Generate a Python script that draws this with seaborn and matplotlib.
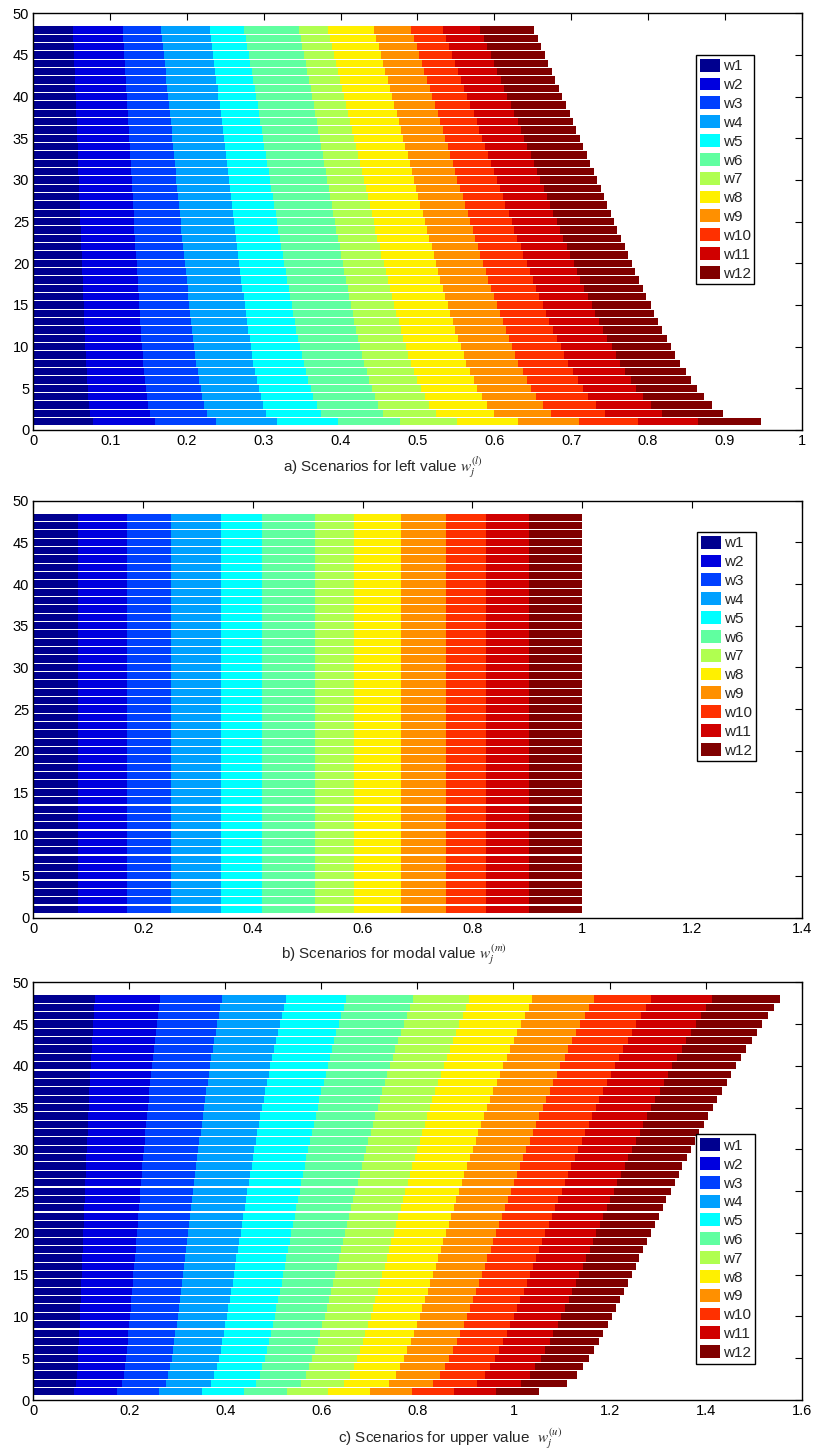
import numpy as np
import pandas as pd
import matplotlib
matplotlib.use("Agg")
import matplotlib.pyplot as plt
import seaborn as sns
from matplotlib.patches import Patch
from matplotlib.ticker import FormatStrFormatter

# ---------------- data ----------------
scenarios = list(range(1, 49))
weight_names = ["w1", "w2", "w3", "w4", "w5", "w6", "w7", "w8", "w9", "w10", "w11", "w12"]

# a) left values (width of each weight segment, scenario 1..48)
left_w1 = [0.0783, .0739, .0726, .0716, .0708, .0701, .0695, .0688, .0683, .0678, .0672, .0667, .0663, .0658, .0654, .0649, .0644, .0640, .0636, .0632, .0627, .0623, .0619, .0615, .0611, .0607, .0603, .0599, .0595, .0591, .0587, .0583, .0579, .0575, .0571, .0567, .0563, .0559, .0555, .0550, .0547, .0542, .0538, .0534, .0530, .0526, .0521, .0517]
left_w2 = [0.0804, .0774, .0766, .0760, .0756, .0752, .0748, .0744, .0741, .0738, .0735, .0732, .0729, .0726, .0724, .0721, .0719, .0716, .0714, .0711, .0709, .0706, .0704, .0701, .0699, .0697, .0694, .0692, .0690, .0687, .0685, .0683, .0680, .0678, .0676, .0673, .0671, .0669, .0666, .0663, .0661, .0659, .0656, .0654, .0652, .0649, .0647, .0644]
left_w3 = [0.0791, .0748, .0733, .0723, .0714, .0707, .0699, .0691, .0686, .0681, .0675, .0669, .0664, .0659, .0654, .0649, .0644, .0639, .0635, .0630, .0625, .0621, .0616, .0611, .0607, .0603, .0598, .0594, .0590, .0585, .0581, .0577, .0572, .0568, .0563, .0559, .0555, .0550, .0545, .0540, .0537, .0532, .0527, .0522, .0518, .0513, .0509, .0504]
left_w4 = [0.0796, .0774, .0766, .0760, .0754, .0750, .0746, .0742, .0739, .0736, .0732, .0729, .0726, .0723, .0721, .0717, .0715, .0712, .0709, .0707, .0704, .0702, .0699, .0696, .0694, .0691, .0689, .0686, .0684, .0681, .0679, .0676, .0674, .0671, .0669, .0666, .0664, .0661, .0659, .0656, .0654, .0651, .0648, .0645, .0643, .0640, .0638, .0635]
left_w5 = [0.0791, .0713, .0697, .0685, .0676, .0668, .0660, .0652, .0646, .0640, .0634, .0627, .0622, .0616, .0611, .0605, .0600, .0595, .0590, .0585, .0579, .0575, .0570, .0565, .0560, .0555, .0550, .0546, .0541, .0536, .0532, .0527, .0522, .0517, .0512, .0508, .0503, .0498, .0493, .0488, .0483, .0478, .0473, .0468, .0463, .0458, .0453, .0448]
left_w6 = [0.0804, .0809, .0803, .0799, .0796, .0793, .0790, .0787, .0785, .0783, .0780, .0778, .0776, .0774, .0772, .0770, .0768, .0766, .0764, .0763, .0761, .0759, .0757, .0755, .0754, .0752, .0750, .0749, .0747, .0745, .0743, .0742, .0740, .0738, .0736, .0735, .0733, .0731, .0729, .0727, .0726, .0724, .0722, .0720, .0719, .0717, .0715, .0713]
left_w7 = [0.0741, .0681, .0663, .0649, .0638, .0629, .0620, .0610, .0603, .0596, .0589, .0582, .0575, .0568, .0563, .0556, .0550, .0544, .0538, .0532, .0526, .0521, .0515, .0509, .0504, .0498, .0493, .0488, .0482, .0476, .0471, .0465, .0460, .0454, .0448, .0443, .0438, .0432, .0426, .0420, .0415, .0409, .0403, .0397, .0392, .0386, .0380, .0374]
left_w8 = [0.0801, .0758, .0749, .0742, .0736, .0731, .0726, .0721, .0718, .0714, .0711, .0707, .0704, .0700, .0697, .0694, .0691, .0687, .0685, .0682, .0678, .0676, .0673, .0670, .0667, .0664, .0661, .0658, .0655, .0652, .0650, .0647, .0644, .0641, .0638, .0635, .0633, .0630, .0627, .0624, .0621, .0618, .0615, .0612, .0609, .0606, .0603, .0600]
left_w9 = [0.0788, .0740, .0725, .0713, .0704, .0696, .0689, .0680, .0675, .0669, .0663, .0657, .0652, .0646, .0641, .0635, .0631, .0625, .0621, .0616, .0611, .0606, .0601, .0596, .0592, .0587, .0582, .0578, .0573, .0568, .0564, .0559, .0555, .0550, .0545, .0541, .0536, .0532, .0526, .0521, .0517, .0512, .0507, .0502, .0498, .0493, .0488, .0483]
left_w10 = [0.0770, .0710, .0692, .0679, .0668, .0659, .0650, .0641, .0634, .0628, .0620, .0613, .0607, .0600, .0595, .0588, .0583, .0576, .0571, .0565, .0559, .0554, .0548, .0543, .0537, .0532, .0526, .0522, .0516, .0510, .0506, .0500, .0494, .0489, .0483, .0478, .0473, .0468, .0462, .0455, .0451, .0445, .0439, .0433, .0428, .0423, .0417, .0411]
left_w11 = [0.0780, .0732, .0717, .0706, .0697, .0690, .0683, .0675, .0670, .0664, .0658, .0652, .0647, .0641, .0637, .0632, .0627, .0622, .0617, .0613, .0608, .0603, .0599, .0594, .0589, .0585, .0580, .0576, .0572, .0567, .0563, .0558, .0554, .0550, .0545, .0541, .0536, .0532, .0527, .0522, .0518, .0513, .0508, .0504, .0499, .0495, .0490, .0485]
left_w12 = [0.0822, .0805, .0799, .0794, .0790, .0787, .0784, .0781, .0779, .0776, .0774, .0771, .0769, .0767, .0765, .0763, .0761, .0759, .0757, .0755, .0753, .0751, .0749, .0747, .0745, .0743, .0741, .0740, .0738, .0735, .0734, .0732, .0730, .0728, .0726, .0724, .0723, .0721, .0719, .0717, .0715, .0713, .0711, .0709, .0707, .0705, .0703, .0701]

# b) modal values: the same weights in every scenario
modal_widths = [0.0811, 0.0892, 0.0814, 0.0898, 0.0759, 0.0954, 0.0708, 0.0872, 0.0813, 0.0723, 0.0788, 0.0968]

# c) upper values
upper_w1 = [0.0849, .0891, .0908, .0920, .0930, .0940, .0949, .0956, .0964, .0972, .0979, .0987, .0994, .1001, .1008, .1015, .1021, .1029, .1035, .1042, .1050, .1056, .1064, .1070, .1077, .1085, .1092, .1099, .1106, .1114, .1122, .1129, .1137, .1145, .1153, .1161, .1169, .1178, .1187, .1195, .1205, .1214, .1223, .1233, .1243, .1254, .1263, .1274]
upper_w2 = [0.0891, .0954, .0972, .0984, .0995, .1005, .1015, .1022, .1031, .1039, .1047, .1055, .1062, .1070, .1077, .1084, .1091, .1099, .1106, .1113, .1121, .1127, .1136, .1142, .1150, .1158, .1165, .1173, .1180, .1188, .1197, .1205, .1213, .1221, .1230, .1238, .1247, .1256, .1265, .1274, .1284, .1294, .1304, .1314, .1324, .1336, .1346, .1357]
upper_w3 = [0.0884, .0918, .0934, .0946, .0956, .0965, .0974, .0981, .0989, .0996, .1003, .1010, .1017, .1024, .1031, .1038, .1044, .1051, .1057, .1064, .1071, .1077, .1085, .1091, .1098, .1105, .1112, .1119, .1126, .1133, .1141, .1148, .1156, .1163, .1171, .1179, .1187, .1196, .1204, .1212, .1221, .1230, .1239, .1248, .1258, .1268, .1278, .1288]
upper_w4 = [0.0884, .0940, .0957, .0970, .0980, .0990, .1000, .1007, .1016, .1024, .1031, .1039, .1046, .1054, .1061, .1068, .1074, .1082, .1089, .1096, .1104, .1110, .1118, .1125, .1133, .1140, .1148, .1155, .1163, .1170, .1179, .1186, .1194, .1202, .1211, .1219, .1228, .1237, .1246, .1255, .1265, .1274, .1284, .1294, .1304, .1315, .1325, .1336]
upper_w5 = [0.0877, .0926, .0941, .0951, .0960, .0969, .0976, .0983, .0990, .0997, .1003, .1009, .1016, .1022, .1028, .1034, .1039, .1046, .1052, .1058, .1064, .1070, .1077, .1082, .1089, .1095, .1101, .1107, .1114, .1120, .1127, .1134, .1140, .1147, .1155, .1161, .1169, .1177, .1184, .1191, .1200, .1208, .1216, .1224, .1233, .1242, .1251, .1260]
upper_w6 = [0.0891, .0946, .0966, .0979, .0991, .1002, .1013, .1021, .1031, .1040, .1048, .1056, .1065, .1073, .1081, .1089, .1096, .1105, .1113, .1120, .1129, .1136, .1145, .1152, .1161, .1169, .1178, .1186, .1194, .1203, .1212, .1221, .1230, .1239, .1249, .1258, .1267, .1278, .1287, .1297, .1308, .1319, .1330, .1341, .1352, .1364, .1376, .1388]
upper_w7 = [0.0863, .0898, .0910, .0919, .0927, .0934, .0941, .0946, .0952, .0958, .0963, .0968, .0974, .0979, .0984, .0989, .0994, .0999, .1004, .1009, .1015, .1019, .1025, .1030, .1035, .1041, .1046, .1051, .1057, .1062, .1068, .1073, .1079, .1085, .1091, .1097, .1103, .1110, .1116, .1122, .1129, .1136, .1143, .1150, .1157, .1165, .1172, .1180]
upper_w8 = [0.0877, .0940, .0956, .0968, .0978, .0987, .0996, .1003, .1011, .1019, .1026, .1033, .1040, .1047, .1054, .1061, .1066, .1074, .1081, .1087, .1095, .1100, .1108, .1114, .1122, .1129, .1136, .1143, .1150, .1157, .1165, .1172, .1180, .1187, .1195, .1203, .1211, .1220, .1228, .1236, .1246, .1254, .1264, .1273, .1283, .1293, .1302, .1313]
upper_w9 = [0.0873, .0907, .0923, .0934, .0944, .0953, .0962, .0969, .0977, .0984, .0991, .0998, .1005, .1012, .1018, .1025, .1030, .1038, .1044, .1050, .1058, .1064, .1071, .1077, .1084, .1091, .1098, .1105, .1112, .1118, .1126, .1133, .1141, .1148, .1156, .1164, .1172, .1180, .1188, .1196, .1205, .1214, .1223, .1232, .1241, .1252, .1261, .1271]
upper_w10 = [0.0868, .0923, .0935, .0943, .0950, .0957, .0963, .0968, .0974, .0979, .0984, .0989, .0994, .0999, .1003, .1008, .1013, .1018, .1023, .1027, .1032, .1037, .1042, .1046, .1052, .1056, .1061, .1066, .1071, .1076, .1082, .1087, .1093, .1098, .1104, .1109, .1115, .1121, .1127, .1133, .1139, .1146, .1152, .1159, .1166, .1173, .1180, .1187]
upper_w11 = [0.0889, .0917, .0933, .0944, .0953, .0962, .0970, .0977, .0985, .0992, .0999, .1005, .1012, .1019, .1025, .1032, .1037, .1044, .1050, .1057, .1064, .1069, .1077, .1082, .1089, .1096, .1103, .1109, .1116, .1123, .1130, .1137, .1144, .1152, .1159, .1167, .1174, .1183, .1190, .1198, .1207, .1215, .1224, .1233, .1242, .1252, .1261, .1271]
upper_w12 = [0.0889, .0958, .0978, .0993, .1005, .1016, .1027, .1036, .1046, .1055, .1064, .1073, .1081, .1090, .1098, .1107, .1114, .1123, .1131, .1139, .1148, .1156, .1165, .1172, .1181, .1190, .1199, .1207, .1216, .1225, .1235, .1243, .1253, .1262, .1272, .1282, .1292, .1302, .1313, .1323, .1334, .1345, .1356, .1368, .1380, .1393, .1404, .1417]

left_series = [left_w1, left_w2, left_w3, left_w4, left_w5, left_w6,
               left_w7, left_w8, left_w9, left_w10, left_w11, left_w12]
modal_series = [[w] * len(scenarios) for w in modal_widths]
upper_series = [upper_w1, upper_w2, upper_w3, upper_w4, upper_w5, upper_w6,
                upper_w7, upper_w8, upper_w9, upper_w10, upper_w11, upper_w12]

# MATLAB jet(64) colours picked for 12 series
colors = ["#00008F", "#0000DF", "#0040FF", "#00A0FF", "#00FFFF", "#60FFA0",
          "#B0FF50", "#FFF000", "#FF9000", "#FF3000", "#D00000", "#800000"]

# ---------------- style ----------------
sns.set_style("white")
plt.rcParams["font.family"] = ["Liberation Sans", "DejaVu Sans"]
plt.rcParams["mathtext.fontset"] = "stix"

fig = plt.figure(figsize=(8.17, 14.52), dpi=100)
L, W = 0.0408, 0.9403
ax_a = fig.add_axes([L, 0.70386, W, 0.28698])
ax_b = fig.add_axes([L, 0.36811, W, 0.28706])
ax_c = fig.add_axes([L, 0.03581, W, 0.28768])


def draw_panel(ax, series, xmax, xticks, xlabel, label_xy, legend_xy):
    widths = np.array(series, dtype=float).T          # scenarios x weights
    ends = np.cumsum(widths, axis=1)
    for j in range(len(weight_names) - 1, -1, -1):
        df = pd.DataFrame({"scenario": scenarios, "end": ends[:, j]})
        sns.barplot(data=df, x="end", y="scenario", orient="y", native_scale=True,
                    color=colors[j], saturation=1, width=0.87, errorbar=None,
                    linewidth=0, ax=ax)
    ax.set_xlim(0, xmax)
    ax.set_ylim(0, 50)
    ax.set_xticks(xticks)
    ax.set_yticks(np.arange(0, 51, 5))
    ax.xaxis.set_major_formatter(FormatStrFormatter("%g"))
    ax.yaxis.set_major_formatter(FormatStrFormatter("%g"))
    ax.tick_params(direction="in", length=5, width=0.8, top=True, right=True,
                   labelsize=10.5, colors="black", pad=3)
    for sp in ax.spines.values():
        sp.set_visible(True)
        sp.set_color("black")
        sp.set_linewidth(1.0)
    ax.set_ylabel("")
    ax.set_xlabel(xlabel, fontsize=11)
    ax.xaxis.set_label_coords(*label_xy)
    handles = [Patch(facecolor=c, edgecolor="none", label=n)
               for c, n in zip(colors, weight_names)]
    leg = ax.legend(handles=handles, loc="upper left", bbox_to_anchor=legend_xy,
                    borderaxespad=0, frameon=True, fancybox=False, framealpha=1,
                    edgecolor="black", fontsize=11, handlelength=1.31,
                    handleheight=0.92, handletextpad=0.2, labelspacing=0.27,
                    borderpad=0.25)
    leg.get_frame().set_linewidth(1.0)


draw_panel(ax_a, left_series, 1.0, np.arange(0, 1.0001, 0.1),
           r"a) Scenarios for left value $w_j^{(l)}$", (0.455, -0.060), (0.8623, 0.900))
draw_panel(ax_b, modal_series, 1.4, np.arange(0, 1.4001, 0.2),
           r"b) Scenarios for modal value $w_j^{(m)}$", (0.4695, -0.059), (0.864, 0.925))
draw_panel(ax_c, upper_series, 1.6, np.arange(0, 1.6001, 0.2),
           r"c) Scenarios for upper value  $w_j^{(u)}$", (0.542, -0.064), (0.863, 0.636))

fig.savefig("out.png", dpi=100)
